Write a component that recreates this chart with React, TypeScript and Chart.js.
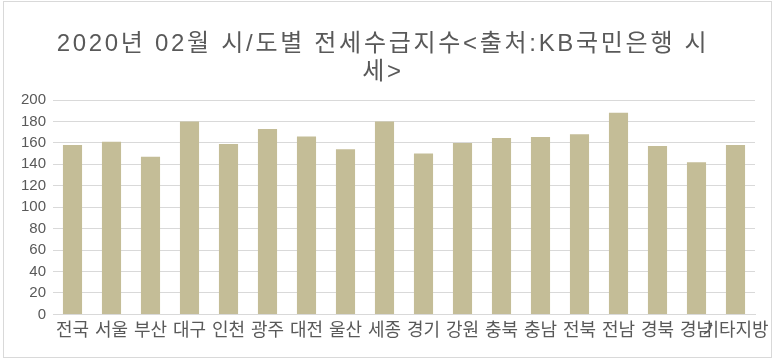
import React, { useEffect, useRef } from "react";
import { Chart, registerables } from "chart.js";

Chart.register(...registerables);

const titleLines = ["2020년 02월 시/도별 전세수급지수<출처:KB국민은행 시", "세>"];
const regions = ["전국", "서울", "부산", "대구", "인천", "광주", "대전", "울산", "세종", "경기", "강원", "충북", "충남", "전북", "전남", "경북", "경남", "기타지방"];
const indexValues = [158, 161, 147, 180, 159, 173, 166, 154, 180, 150, 160, 164.5, 165.5, 168, 188, 157, 142, 158];
const yMin = 0;
const yMax = 200;
const yStep = 20;

const FONT = "'Liberation Sans', 'Noto Sans CJK KR', Arial, sans-serif";

const titlePlugin = {
  id: "spacedTitle",
  afterDraw(chart: any) {
    const ctx = chart.ctx as CanvasRenderingContext2D;
    ctx.save();
    ctx.font = `24px ${FONT}`;
    ctx.fillStyle = "#595959";
    ctx.textAlign = "center";
    ctx.textBaseline = "middle";
    (ctx as any).letterSpacing = "2.7px";
    const cx = 383;
    titleLines.forEach((line, i) => {
      ctx.fillText(line, cx, 44 + i * 28);
    });
    ctx.restore();
  },
};

export default function App() {
  const ref = useRef<HTMLCanvasElement | null>(null);
  useEffect(() => {
    if (!ref.current) return;
    const chart = new Chart(ref.current, {
      type: "bar",
      data: {
        labels: regions,
        datasets: [
          {
            label: "전세수급지수",
            data: indexValues,
            backgroundColor: "#C4BD97",
            borderWidth: 0,
            barPercentage: 0.49,
            categoryPercentage: 1,
          },
        ],
      },
      options: {
        animation: false,
        responsive: false,
        maintainAspectRatio: false,
        layout: { padding: { left: 0, right: 24, top: 100, bottom: 15 } },
        plugins: {
          legend: { display: false },
          tooltip: { enabled: false },
          title: { display: false },
        },
        scales: {
          x: {
            grid: { display: false, drawTicks: false },
            border: { display: true, color: "#D9D9D9" },
            ticks: {
              color: "#595959",
              font: { family: FONT, size: 18 },
              autoSkip: false,
              maxRotation: 0,
              minRotation: 0,
              padding: 6,
            },
          },
          y: {
            min: yMin,
            max: yMax,
            grid: { color: "#D9D9D9", drawTicks: false },
            border: { display: false },
            ticks: {
              stepSize: yStep,
              color: "#595959",
              font: { family: FONT, size: 15 },
              padding: 7,
            },
            afterFit: (scale: any) => {
              scale.width = 53;
            },
          },
        },
      },
      plugins: [titlePlugin],
    });
    return () => chart.destroy();
  }, []);
  return (
    <div style={{ position: "absolute", left: 0, top: 0, width: 779, height: 363, background: "#fff" }}>
      <canvas ref={ref} width={779} height={363} style={{ position: "absolute", left: 0, top: 0, width: 779, height: 363 }} />
      <div
        style={{
          position: "absolute",
          left: 3,
          top: 1,
          width: 767,
          height: 355,
          border: "1px solid #D9D9D9",
          pointerEvents: "none",
        }}
      />
    </div>
  );
}
